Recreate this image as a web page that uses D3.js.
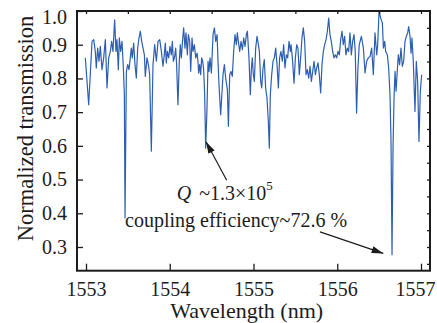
<!DOCTYPE html>
<html><head><meta charset="utf-8">
<script src="https://cdn.jsdelivr.net/npm/d3@7"></script>
<style>body{margin:0;background:#fff}svg{display:block}</style>
</head><body>
<svg id="c" width="437" height="323"></svg>
<script>
const wavelength = [
1552.992,1553.032,1553.072,1553.092,1553.111,1553.123,1553.139,1553.155,1553.171,1553.191,1553.211,1553.231,1553.251,1553.271,1553.291,1553.306,1553.322,1553.342,1553.358,1553.370,1553.386,1553.398,1553.414,1553.430,1553.446,1553.458,1553.466,1553.482,1553.498,1553.513,1553.529,1553.541,1553.553,1553.569,1553.585,1553.601,1553.617,1553.633,1553.649,1553.665,1553.681,1553.697,1553.708,1553.728,1553.748,
1553.760,1553.780,1553.800,1553.820,1553.840,1553.860,1553.880,1553.900,1553.919,1553.931,1553.947,1553.959,1553.971,1553.987,1554.003,1554.019,1554.031,1554.043,1554.059,1554.071,1554.082,1554.098,1554.114,1554.126,1554.138,1554.154,1554.166,1554.182,1554.194,1554.210,1554.222,1554.238,1554.250,1554.266,1554.278,1554.294,1554.310,1554.326,1554.337,1554.345,1554.357,1554.369,1554.381,1554.393,1554.405,1554.417,1554.429,1554.445,1554.457,1554.469,1554.481,1554.497,1554.517,1554.533,1554.549,1554.565,1554.576,1554.588,
1554.608,1554.636,1554.652,1554.668,1554.688,1554.700,1554.716,1554.731,1554.747,1554.763,1554.779,1554.795,1554.807,1554.819,1554.835,1554.851,1554.867,1554.883,1554.899,1554.915,1554.927,1554.946,1554.962,1554.974,1554.986,1554.998,1555.010,1555.026,1555.042,1555.058,1555.070,1555.086,1555.098,1555.114,1555.129,1555.145,1555.161,1555.177,1555.189,1555.201,1555.217,1555.233,1555.249,1555.265,1555.281,1555.297,1555.312,1555.328,1555.344,1555.360,1555.376,1555.392,1555.408,1555.424,1555.440,
1555.448,1555.464,1555.484,1555.500,1555.516,1555.531,1555.547,1555.563,1555.579,1555.595,1555.611,1555.627,1555.643,1555.659,1555.675,1555.691,1555.707,1555.723,1555.739,1555.754,1555.770,1555.786,1555.802,1555.818,1555.834,1555.850,1555.866,1555.882,1555.898,1555.913,1555.929,1555.945,1555.961,1555.977,1555.993,1556.009,1556.025,1556.041,1556.057,1556.072,1556.088,1556.104,1556.120,1556.136,1556.152,1556.168,1556.184,1556.200,1556.215,1556.231,1556.247,1556.263,
1556.288,1556.312,1556.332,1556.351,1556.371,1556.391,1556.411,1556.431,1556.451,1556.471,1556.483,1556.499,1556.519,1556.539,1556.551,1556.567,1556.578,1556.598,1556.614,1556.630,1556.642,1556.654,1556.666,1556.678,1556.690,1556.702,1556.714,1556.729,1556.745,1556.761,1556.777,1556.793,1556.809,1556.825,1556.841,1556.853,1556.869,1556.881,1556.892,1556.908,1556.928,1556.944,1556.960,1556.976,1556.992,1557.008
];
const transmission = [
0.861,0.722,0.910,0.915,0.880,0.831,0.890,0.851,0.895,0.826,0.861,0.915,0.772,0.861,0.880,0.910,0.880,0.974,0.880,0.915,0.826,0.920,0.880,0.910,0.831,0.752,0.386,0.821,0.841,0.826,0.861,0.890,0.861,0.905,0.841,0.801,0.890,0.920,0.940,0.910,0.890,0.870,0.806,0.861,0.836,
0.811,0.584,0.841,0.900,0.851,0.910,0.915,0.880,0.836,0.861,0.905,0.846,0.880,0.861,0.895,0.870,0.910,0.851,0.865,0.890,0.841,0.722,0.851,0.900,0.861,0.915,0.950,0.890,0.935,0.870,0.930,0.910,0.821,0.920,0.880,0.900,0.861,0.875,0.851,0.816,0.841,0.811,0.861,0.851,0.826,0.752,0.593,0.712,0.851,0.821,0.861,0.816,0.930,0.950,0.910,0.930,0.851,0.781,
0.692,0.811,0.841,0.801,0.767,0.658,0.811,0.821,0.806,0.880,0.930,0.900,0.935,0.910,0.880,0.910,0.885,0.920,0.895,0.930,0.940,0.861,0.752,0.826,0.861,0.811,0.791,0.890,0.925,0.900,0.880,0.791,0.772,0.831,0.856,0.772,0.742,0.673,0.593,0.752,0.811,0.851,0.861,0.890,0.841,0.772,0.861,0.880,0.851,0.900,0.831,0.870,0.861,0.910,0.880,
0.900,0.861,0.786,0.861,0.900,0.890,0.811,0.861,0.920,0.950,0.910,0.811,0.826,0.801,0.836,0.791,0.821,0.851,0.811,0.831,0.846,0.811,0.757,0.841,0.880,0.900,0.915,0.940,0.979,0.930,0.910,0.880,0.861,0.870,0.861,0.880,0.870,0.915,0.940,0.900,0.925,0.870,0.890,0.880,0.935,0.870,0.910,0.930,0.880,0.697,0.831,0.900,
0.925,0.890,0.816,0.851,0.861,0.865,0.890,0.811,0.935,0.870,0.900,0.999,0.979,0.964,0.890,0.910,0.880,0.870,0.831,0.752,0.613,0.277,0.593,0.742,0.821,0.762,0.811,0.870,0.841,0.890,0.836,0.851,0.910,0.925,0.935,0.954,0.925,0.875,0.920,0.851,0.702,0.851,0.791,0.613,0.762,0.811
];
const xTicks = [1553, 1554, 1555, 1556, 1557];
const xTopTicks = [1553, 1553.5, 1554, 1554.5, 1555, 1555.5, 1556, 1556.5, 1557];
const yTicks = [0.3, 0.4, 0.5, 0.6, 0.7, 0.8, 0.9, 1.0];
const yRightTicks = [0.25, 0.3, 0.35, 0.4, 0.45, 0.5, 0.55, 0.6, 0.65, 0.7, 0.75, 0.8, 0.85, 0.9, 0.95];
const xLabel = "Wavelength (nm)";
const yLabel = "Normalized transmission";
// annotations: [wavelength, transmission]
const qText = {pos: [1554.083, 0.439], q: "Q", rest: "~1.3×10", sup: "5"};
const qArrow = {from: [1554.68, 0.498], to: [1554.433, 0.612]};
const ceText = {pos: [1553.466, 0.359], text: "coupling efficiency~72.6 %"};
const ceArrow = {from: [1555.794, 0.345], to: [1556.55, 0.281]};

const m = {l: 77, r: 430, t: 11, b: 270.7};
const font = "'Liberation Serif', 'Times New Roman', serif";
const ink = "#1c1c1c";
const svg = d3.select("#c");

const x = d3.scaleLinear().domain([1552.8925, 1557.1075]).range([m.l, m.r]);
const y = d3.scaleLinear().domain([0.2297, 1.0]).range([m.b, m.t]);

// data line
const data = wavelength.map((w, i) => [w, transmission[i]]);
svg.append("path").datum(data)
  .attr("fill", "none").attr("stroke", "#2d5fb0").attr("stroke-width", 1.2)
  .attr("stroke-linejoin", "round")
  .attr("d", d3.line().x(d => x(d[0])).y(d => y(d[1])));

// axes
const gx = svg.append("g").attr("transform", `translate(0,${m.b})`)
  .call(d3.axisBottom(x).tickValues(xTicks).tickFormat(d3.format("d")).tickSizeInner(-7).tickSizeOuter(0).tickPadding(11));
const gxt = svg.append("g").attr("transform", `translate(0,${m.t})`)
  .call(d3.axisTop(x).tickValues(xTopTicks).tickFormat("").tickSizeInner(-3).tickSizeOuter(0));
const gy = svg.append("g").attr("transform", `translate(${m.l},0)`)
  .call(d3.axisLeft(y).tickValues(yTicks).tickFormat(d3.format(".1f")).tickSizeInner(-6).tickSizeOuter(0).tickPadding(10));
const gyr = svg.append("g").attr("transform", `translate(${m.r},0)`)
  .call(d3.axisRight(y).tickValues(yRightTicks).tickFormat("").tickSizeInner(-3).tickSizeOuter(0));
[gx, gxt, gy, gyr].forEach(g => {
  g.select(".domain").remove();
  g.selectAll(".tick line").attr("stroke", ink).attr("stroke-width", 1.3);
  g.selectAll(".tick text").attr("fill", ink).style("font-family", font).style("font-size", "20px");
});
// keep the edge labels inside the picture, as in the reference
gx.selectAll(".tick text").filter(d => d === 1557).attr("text-anchor", "end").attr("x", 14);
gy.selectAll(".tick text").filter(d => d === 1.0).attr("dy", "0.62em");

// frame
svg.append("rect").attr("x", m.l).attr("y", m.t).attr("width", m.r - m.l).attr("height", m.b - m.t)
  .attr("fill", "none").attr("stroke", ink).attr("stroke-width", 2);

// axis labels
svg.append("text").attr("x", 246.7).attr("y", 318).attr("text-anchor", "middle")
  .style("font-family", font).style("font-size", "22px").attr("fill", ink).text(xLabel);
svg.append("text").attr("transform", "translate(33,128.5) rotate(-90)").attr("text-anchor", "middle")
  .style("font-family", font).style("font-size", "22.5px").attr("fill", ink).text(yLabel);

// annotations
const qt = svg.append("text").attr("x", x(qText.pos[0])).attr("y", y(qText.pos[1]))
  .style("font-family", font).style("font-size", "20px").attr("fill", ink);
qt.append("tspan").style("font-style", "italic").text(qText.q);
qt.append("tspan").attr("dx", 8).text(qText.rest);
qt.append("tspan").attr("dy", -10).style("font-size", "13px").text(qText.sup);

svg.append("text").attr("x", x(ceText.pos[0])).attr("y", y(ceText.pos[1]))
  .style("font-family", font).style("font-size", "20px").attr("fill", ink).text(ceText.text);

svg.append("defs").append("marker").attr("id", "ah")
  .attr("viewBox", "0 0 10 6").attr("refX", 10).attr("refY", 3)
  .attr("markerWidth", 12).attr("markerHeight", 7).attr("markerUnits", "userSpaceOnUse").attr("orient", "auto")
  .append("path").attr("d", "M0,0 L10,3 L0,6 Z").attr("fill", ink);
[qArrow, ceArrow].forEach(a => {
  svg.append("line")
    .attr("x1", x(a.from[0])).attr("y1", y(a.from[1]))
    .attr("x2", x(a.to[0])).attr("y2", y(a.to[1]))
    .attr("stroke", ink).attr("stroke-width", 1.2).attr("marker-end", "url(#ah)");
});
</script>
</body></html>
